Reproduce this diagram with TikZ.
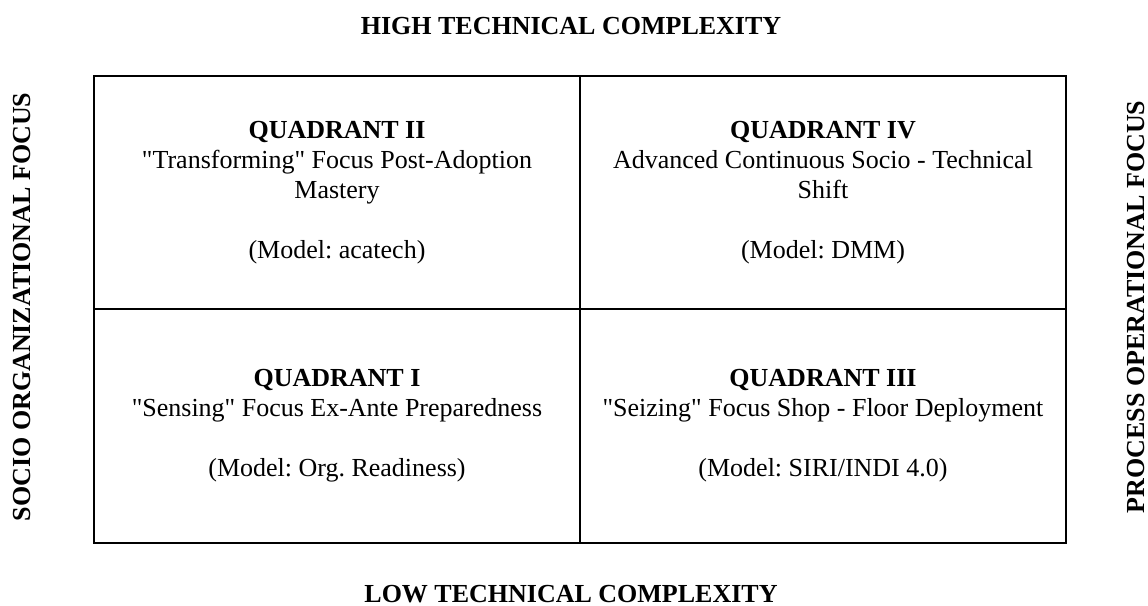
\documentclass[tikz,border=0pt]{standalone}
\usepackage{fontspec}
\setmainfont{Liberation Serif}[Ligatures=TeXOff]
\frenchspacing
\begin{document}
% one unit = one pixel of the 1148 x 606 canvas, y growing downwards
\begin{tikzpicture}[x=0.75pt,y=-0.75pt,
  cell/.style={draw,line width=1.5pt,align=center,inner sep=0pt,
    minimum width=364.5pt,minimum height=175.1pt,
    font=\fontsize{19.5}{22.5}\selectfont},
  axislabel/.style={inner sep=0pt,anchor=base,
    font=\fontsize{19.5}{22.5}\selectfont\bfseries}]
\useasboundingbox (0,0) rectangle (1148,606);

% the four quadrants of the matrix
\node[cell] (q2) at (337,192.5) {\textbf{QUADRANT II}\\
  "Transforming" Focus Post-Adoption\\ Mastery\\[22.5pt] (Model: acatech)};
\node[cell] (q4) at (823,192.5) {\textbf{QUADRANT IV}\\
  Advanced Continuous Socio - Technical\\ Shift\\[22.5pt] (Model: DMM)};
\node[cell] (q1) at (337,426) {\textbf{QUADRANT I}\\
  "Sensing" Focus Ex-Ante Preparedness\\[22.5pt] (Model: Org. Readiness)};
\node[cell] (q3) at (823,426) {\textbf{QUADRANT III}\\
  "Seizing" Focus Shop - Floor Deployment\\[22.5pt] (Model: SIRI/INDI 4.0)};

% axis labels around the matrix
\node[axislabel] (high) at (571,35) {HIGH TECHNICAL COMPLEXITY};
\node[axislabel] (low) at (571,602) {LOW TECHNICAL COMPLEXITY};
\node[axislabel,rotate=90] (socio) at (31,307) {SOCIO ORGANIZATIONAL FOCUS};
\node[axislabel,rotate=90] (process) at (1144,307) {PROCESS OPERATIONAL FOCUS};
\end{tikzpicture}
\end{document}
